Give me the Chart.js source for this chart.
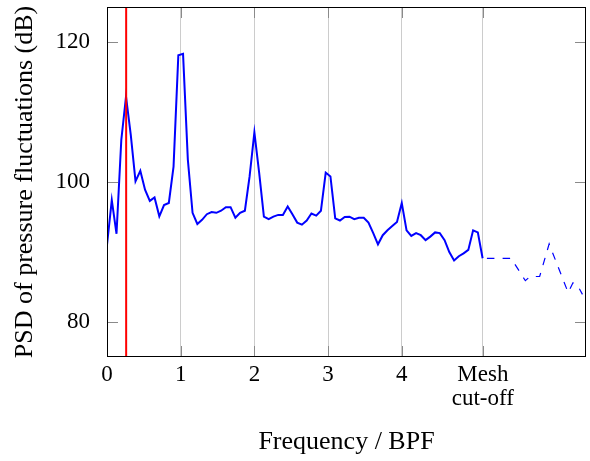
<!DOCTYPE html>
<html><head><meta charset="utf-8">
<script src="https://cdn.jsdelivr.net/npm/chart.js@4"></script>
<style>html,body{margin:0;padding:0;background:#fff}canvas{display:block}</style>
</head><body>
<canvas id="c" width="590" height="461"></canvas>
<script>
// Solid curve (resolved part of the spectrum)
const freqSolid = [0.000,0.065,0.129,0.194,0.258,0.323,0.387,0.452,0.516,0.581,
  0.645,0.710,0.774,0.839,0.903,0.968,1.032,1.097,1.161,1.226,
  1.290,1.355,1.419,1.484,1.548,1.613,1.677,1.742,1.806,1.871,
  1.935,2.000,2.065,2.129,2.194,2.258,2.323,2.387,2.452,2.516,
  2.581,2.645,2.710,2.774,2.839,2.903,2.968,3.032,3.097,3.161,
  3.226,3.290,3.355,3.419,3.484,3.548,3.613,3.677,3.742,3.806,
  3.871,3.935,4.000,4.065,4.129,4.194,4.258,4.323,4.387,4.452,
  4.516,4.581,4.645,4.710,4.774,4.839,4.903,4.968,5.032,5.097];
const psdSolid = [91.0,97.4,92.6,106.0,112.2,106.7,100.1,101.6,98.9,97.3,
  97.8,95.1,96.7,97.0,102.2,118.1,118.3,103.2,95.6,94.0,
  94.6,95.4,95.7,95.6,95.9,96.4,96.4,94.9,95.6,95.9,
  100.8,107.1,101.3,95.05,94.7,95.05,95.3,95.3,96.5,95.4,
  94.2,93.9,94.5,95.5,95.2,95.9,101.35,100.8,94.8,94.5,
  95.0,95.05,94.7,94.9,94.9,94.2,92.7,91.1,92.4,93.1,
  93.7,94.3,97.0,93.1,92.3,92.7,92.4,91.7,92.2,92.8,
  92.7,91.7,90.0,88.8,89.4,89.8,90.3,93.1,92.8,89.1];
// Dashed curve (beyond mesh cut-off)
const freqDashed = [5.097,5.484,5.677,5.742,5.871,6.000,6.258,6.323,6.387,6.452];
const psdDashed  = [89.1,89.1,85.9,86.5,86.5,91.15,84.2,85.6,85.2,83.95];
// Vertical marker
const markerFreq = 0.26;
// Axes
const xMin = 0, xMax = 6.5, yMin = 75, yMax = 125;
const xTickValues = [0,1,2,3,4,5.1];
const xTickLabels = ['0','1','2','3','4',['Mesh','cut-off']];
const yTickValues = [80,100,120];
const xTitle = 'Frequency / BPF';
const yTitle = 'PSD of pressure fluctuations (dB)';

const FONT = "'Liberation Serif', 'Times New Roman', serif";

const framePlugin = {
  id: 'frame',
  afterDatasetsDraw(chart) {
    const {ctx, chartArea: a, scales} = chart;
    ctx.save();
    // inner tick marks
    ctx.strokeStyle = '#8a8a8a';
    ctx.lineWidth = 1;
    const L = 11;
    ctx.beginPath();
    xTickValues.forEach(v => {
      if (v === xMin) return;
      const px = Math.round(scales.x.getPixelForValue(v)) + 0.5;
      ctx.moveTo(px, a.bottom); ctx.lineTo(px, a.bottom - L);
      ctx.moveTo(px, a.top); ctx.lineTo(px, a.top + L);
    });
    yTickValues.forEach(v => {
      const py = Math.round(scales.y.getPixelForValue(v)) + 0.5;
      ctx.moveTo(a.left, py); ctx.lineTo(a.left + L, py);
      ctx.moveTo(a.right, py); ctx.lineTo(a.right - L, py);
    });
    ctx.stroke();
    // frame
    ctx.strokeStyle = '#000';
    ctx.lineWidth = 1;
    ctx.strokeRect(a.left + 0.5, a.top + 0.5, a.right - a.left - 1, a.bottom - a.top - 1);
    ctx.restore();
  }
};

new Chart(document.getElementById('c'), {
  type: 'line',
  data: {
    datasets: [
      {
        data: [{x: markerFreq, y: yMin}, {x: markerFreq, y: yMax}],
        borderColor: '#ff0000', borderWidth: 2, order: 0
      },
      {
        data: freqSolid.map((f, i) => ({x: f, y: psdSolid[i]})),
        borderColor: '#0000ff', borderWidth: 2, order: 1
      },
      {
        data: freqDashed.map((f, i) => ({x: f, y: psdDashed[i]})),
        borderColor: '#0000ff', borderWidth: 1.2, borderDash: [7.5, 8.2], borderDashOffset: 11.4, order: 2
      }
    ]
  },
  options: {
    responsive: false,
    devicePixelRatio: 1,
    animation: false,
    layout: {padding: {left: 0, right: 4, top: 7, bottom: 0}},
    plugins: {legend: {display: false}, tooltip: {enabled: false}},
    elements: {point: {radius: 0}, line: {tension: 0, borderJoinStyle: 'miter'}},
    scales: {
      x: {
        type: 'linear', min: xMin, max: xMax,
        afterBuildTicks: s => { s.ticks = xTickValues.map(v => ({value: v})); },
        afterFit: s => { s.height = 104; s.paddingLeft = 0; s.paddingRight = 0; },
        ticks: {
          callback: (v, i) => xTickLabels[i],
          color: '#000', font: {family: FONT, size: 23, lineHeight: 1.05},
          padding: 6, maxRotation: 0, autoSkip: false
        },
        grid: {
          color: c => (c.tick && c.tick.value === xMin) ? 'rgba(0,0,0,0)' : '#cccccc',
          lineWidth: 1, drawTicks: false
        },
        border: {display: false},
        title: {display: true, text: xTitle, color: '#000',
          font: {family: FONT, size: 26}, padding: {top: 0, bottom: 3}}
      },
      y: {
        type: 'linear', min: yMin, max: yMax,
        afterBuildTicks: s => { s.ticks = yTickValues.map(v => ({value: v})); },
        afterFit: s => { s.width = 107; s.paddingTop = 0; s.paddingBottom = 0; },
        ticks: {color: '#000', font: {family: FONT, size: 23}, padding: 17},
        grid: {display: false, drawTicks: false},
        border: {display: false},
        title: {display: true, text: yTitle, color: '#000',
          font: {family: FONT, size: 26}, padding: {top: 10, bottom: 0}}
      }
    }
  },
  plugins: [framePlugin]
});
</script>
</body></html>
